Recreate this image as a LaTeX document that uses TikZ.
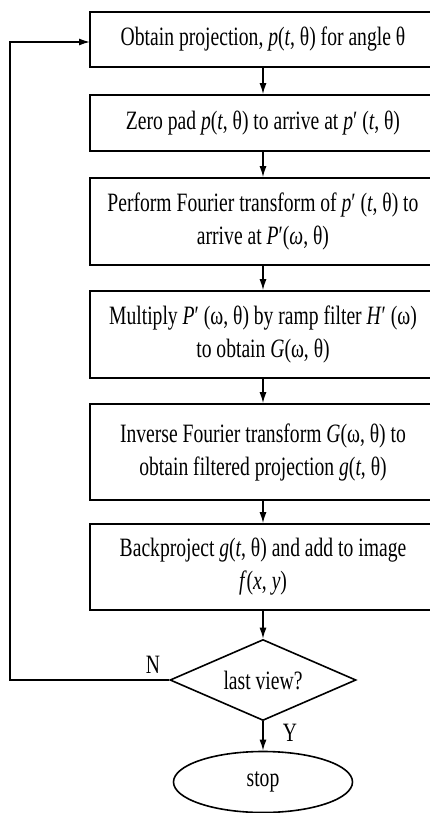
\documentclass[tikz,border=0pt]{standalone}
\usepackage{fontspec}
\setmainfont{Liberation Serif}[FakeStretch=0.74]
\usetikzlibrary{shapes.geometric,arrows.meta}
\tikzset{
  every picture/.style={line width=1.6pt},
  stepbox/.style={draw, line width=1.7pt, minimum width=346pt, inner sep=0pt, align=center,
    font=\fontsize{26.5}{33}\selectfont},
  decide/.style={draw, diamond, line width=1.6pt, minimum width=186pt, minimum height=81pt, inner sep=0pt, aspect=2.3,
    font=\fontsize{26.5}{33}\selectfont},
  term/.style={draw, ellipse, line width=1.6pt, minimum width=179pt, minimum height=61pt, inner sep=0pt,
    font=\fontsize{26.5}{33}\selectfont},
  lab/.style={font=\fontsize{26.5}{33}\selectfont, inner sep=0pt},
  arr/.style={-{Latex[length=11pt,width=7pt]}, line width=1.4pt}
}
\newcommand{\vi}[1]{\textit{#1}}
\begin{document}
\begin{tikzpicture}[x=1pt,y=1pt]
\useasboundingbox (0,0) rectangle (430,-813);
\node[stepbox, minimum height=55pt] (b1) at (263,-39.5) {Obtain projection, \vi{p}(\vi{t}, θ) for angle θ};
\node[stepbox, minimum height=56pt] (b2) at (263,-123) {Zero pad \vi{p}(\vi{t}, θ) to arrive at \vi{p}′ (\vi{t}, θ)};
\node[stepbox, minimum height=87pt] (b3) at (263,-221.5) {Perform Fourier transform of \vi{p}′ (\vi{t}, θ) to\\arrive at \vi{P}′(\vi{ω}, θ)};
\node[stepbox, minimum height=87pt] (b4) at (263,-334.5) {Multiply \vi{P}′ (ω, θ) by ramp filter \vi{H}′ (ω)\\to obtain \vi{G}(ω, θ)};
\node[stepbox, minimum height=96pt] (b5) at (263,-452) {Inverse Fourier transform \vi{G}(ω, θ) to\\obtain filtered projection \vi{g}(\vi{t}, θ)};
\node[stepbox, minimum height=86pt] (b6) at (263,-567) {Backproject \vi{g}(\vi{t}, θ) and add to image\\\vi{f}(\vi{x}, \vi{y})};
\node[decide] (d) at (263,-680) {last view?};
\node[term] (s) at (263,-782) {stop};
\coordinate (c1) at (10,-680);
\coordinate (c2) at (10,-42);
\coordinate (c3) at (90,-42);
\draw[arr] (b1) -- (b2);
\draw[arr] (b2) -- (b3);
\draw[arr] (b3) -- (b4);
\draw[arr] (b4) -- (b5);
\draw[arr] (b5) -- (b6);
\draw[arr] (b6) -- (d);
\draw[arr] (d) -- (s);
\draw[arr] (d.west) -- (c1) -- (c2) -- (c3);
\node[lab] (n) at (153,-665) {N};
\node[lab] (y) at (290,-733) {Y};
\end{tikzpicture}
\end{document}
